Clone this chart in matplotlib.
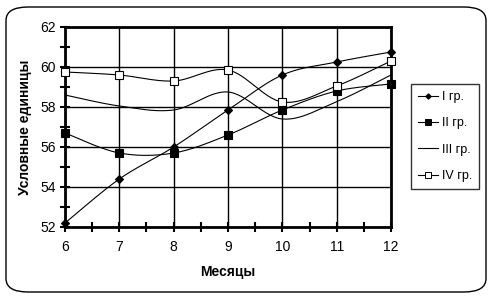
import numpy as np
import matplotlib
matplotlib.use("Agg")
import matplotlib.pyplot as plt
from matplotlib.patches import FancyBboxPatch
from matplotlib.lines import Line2D

plt.rcParams['font.family'] = ['Liberation Sans', 'DejaVu Sans']

months = [6, 7, 8, 9, 10, 11, 12]
g1 = [52.2, 54.4, 56.0, 57.85, 59.6, 60.25, 60.75]
g2 = [56.7, 55.7, 55.7, 56.6, 57.85, 58.8, 59.15]
g3 = [58.6, 58.05, 57.85, 58.75, 57.4, 58.27, 59.6]
g4 = [59.75, 59.6, 59.3, 59.85, 58.25, 59.05, 60.3]
labels = ['I гр.', 'II гр.', 'III гр.', 'IV гр.']


def smooth(x, y, n=30):
    x = np.asarray(x, float); y = np.asarray(y, float)
    xs, ys = [], []
    for i in range(len(x) - 1):
        p0 = np.array([x[max(i-1, 0)], y[max(i-1, 0)]])
        p1 = np.array([x[i], y[i]])
        p2 = np.array([x[i+1], y[i+1]])
        p3 = np.array([x[min(i+2, len(x)-1)], y[min(i+2, len(x)-1)]])
        c1 = p1 + (p2 - p0) / 6
        c2 = p2 - (p3 - p1) / 6
        t = np.linspace(0, 1, n)[:, None]
        pts = (1-t)**3*p1 + 3*(1-t)**2*t*c1 + 3*(1-t)*t**2*c2 + t**3*p2
        xs.extend(pts[:, 0]); ys.extend(pts[:, 1])
    return xs, ys


fig = plt.figure(figsize=(4.92, 2.98), dpi=100)
W, H = 492, 298
border = FancyBboxPatch((6/W, 6/H), 480/W, 285/H,
                        boxstyle="round,pad=0,rounding_size=0.045",
                        transform=fig.transFigure, fill=False,
                        edgecolor='black', linewidth=1.0)
fig.patches.append(border)

ax = fig.add_axes([65/W, 1-227/H, 326/W, 200/H])
styles = [dict(marker='D', markersize=4, mfc='black', mec='black'),
          dict(marker='s', markersize=5.5, mfc='black', mec='black'),
          dict(marker=None),
          dict(marker='s', markersize=5.5, mfc='white', mec='black')]
handles = []
for vals, lab, st in zip([g1, g2, g3, g4], labels, styles):
    sx, sy = smooth(months, vals)
    ax.plot(sx, sy, color='black', lw=0.8, zorder=3)
    if st['marker']:
        ax.plot(months, vals, linestyle='none', zorder=4, clip_on=False,
                marker=st['marker'], markersize=st['markersize'],
                markerfacecolor=st['mfc'], markeredgecolor=st['mec'],
                markeredgewidth=0.8)
    handles.append(Line2D([], [], color='black', lw=0.8,
                          marker=st['marker'], markersize=(st.get('markersize', 0) or 0)*0.7,
                          markerfacecolor=st.get('mfc'), markeredgecolor=st.get('mec'),
                          markeredgewidth=0.7))

ax.set_xlim(6, 12)
ax.set_ylim(52, 62)
ax.set_xticks(months)
ax.set_yticks([52, 54, 56, 58, 60, 62])
ax.set_xticks(np.arange(6.5, 12, 1), minor=True)
ax.set_yticks([53, 55, 57, 59, 61], minor=True)
ax.grid(True, which='major', color='black', lw=1.0)
ax.tick_params(which='major', direction='inout', length=7, width=1.5, labelsize=10, pad=6)
ax.tick_params(which='minor', direction='inout', length=7, width=1.5)
ax.tick_params(axis='y', pad=3)
for s in ax.spines.values():
    s.set_linewidth(2.0)
ax.set_xlabel('Месяцы', fontsize=10, fontweight='bold', labelpad=8)
ax.set_ylabel('Условные единицы', fontsize=10, fontweight='bold', labelpad=6)

leg = fig.legend(handles, labels, loc='upper left',
                 bbox_to_anchor=(411/W, 1-84/H), frameon=True, fancybox=False,
                 edgecolor='black', fontsize=9, handlelength=1.6,
                 handletextpad=0.3, labelspacing=1.15, borderpad=0.55,
                 borderaxespad=0)
leg.get_frame().set_linewidth(1.0)

fig.savefig('out.png', dpi=100)
